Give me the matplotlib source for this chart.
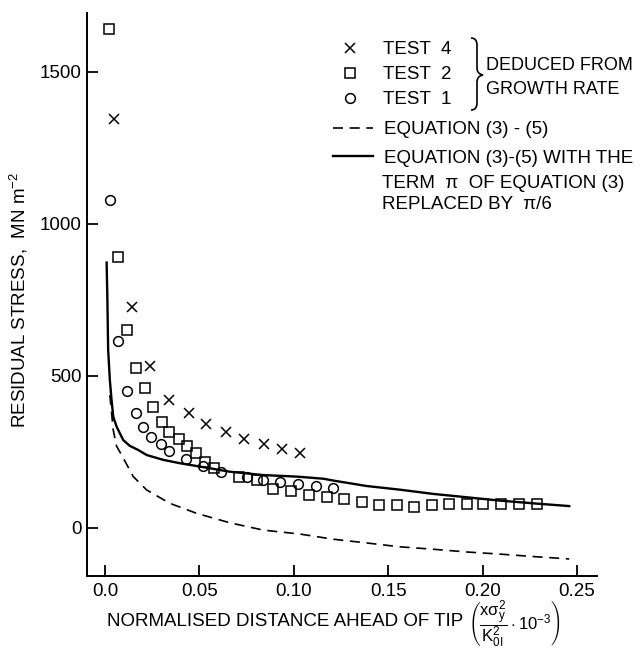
import matplotlib
matplotlib.use("Agg")
import matplotlib.pyplot as plt
from matplotlib.path import Path
from matplotlib.patches import PathPatch

plt.rcParams['font.family'] = ['Liberation Sans', 'DejaVu Sans']
plt.rcParams['mathtext.fontset'] = 'custom'
plt.rcParams['mathtext.rm'] = 'Liberation Sans'
plt.rcParams['mathtext.it'] = 'Liberation Sans'
plt.rcParams['mathtext.bf'] = 'Liberation Sans:bold'

# Messpunkte (aus Wachstumsrate abgeleitet)
t4_x = [0.0048, 0.0143, 0.0238, 0.034, 0.0447, 0.0533, 0.0639, 0.0736, 0.0842, 0.0936, 0.1033]
t4_y = [1345, 727, 533, 421, 377, 342, 316, 293, 276, 260, 246]

t2_x = [0.0021, 0.0071, 0.0118, 0.0162, 0.021, 0.0256, 0.030, 0.0339, 0.0392, 0.0436,
        0.0484, 0.0531, 0.0577, 0.0711, 0.0803, 0.0892, 0.0987, 0.108, 0.1174, 0.1268,
        0.136, 0.1453, 0.1545, 0.1638, 0.173, 0.1824, 0.1915, 0.2004, 0.2099, 0.2193, 0.2286]
t2_y = [1642, 891, 651, 526, 461, 399, 350, 315, 292, 271,
        246, 218, 196, 167, 157, 129, 123, 108, 103, 96,
        86, 77, 75, 68, 77, 79, 79, 79, 79, 79, 78]

t1_x = [0.0026, 0.0067, 0.0115, 0.0162, 0.0203, 0.0245, 0.0295, 0.0341, 0.0431, 0.0521,
        0.0614, 0.075, 0.0839, 0.0927, 0.1024, 0.1118, 0.1209]
t1_y = [1079, 616, 452, 377, 332, 298, 276, 253, 226, 204,
        184, 169, 158, 151, 146, 139, 133]

# Gleichung (3)-(5)
dash_x = [0.0026, 0.0044, 0.0061, 0.0097, 0.015, 0.0221, 0.0344, 0.0486, 0.0662, 0.0838,
          0.1033, 0.1209, 0.1368, 0.1562, 0.1739, 0.1916, 0.2092, 0.2269, 0.2459]
dash_y = [437, 322, 270, 230, 169, 125, 81, 48, 17, -7,
          -20, -37, -48, -62, -70, -79, -86, -94, -102]

# Gleichung (3)-(5) mit pi/6
sol_x = [0.0009, 0.0013, 0.0017, 0.0026, 0.0035, 0.0044, 0.0062, 0.0097, 0.0132, 0.0175,
         0.0221, 0.0309, 0.0397, 0.0503, 0.0662, 0.0838, 0.1015, 0.1157, 0.1209, 0.1386,
         0.1562, 0.1739, 0.1916, 0.2092, 0.2269, 0.2459]
sol_y = [873, 750, 586, 487, 421, 366, 333, 289, 270, 257,
         240, 224, 213, 202, 185, 174, 169, 162, 156, 138,
         126, 112, 101, 90, 81, 72]

xticks = [0.0, 0.05, 0.10, 0.15, 0.20, 0.25]
xtick_labels = ["0.0", "0.05", "0.10", "0.15", "0.20", "0.25"]
yticks = [0, 500, 1000, 1500]

W, H = 640, 648
fig = plt.figure(figsize=(6.4, 6.48), dpi=100)
ax = fig.add_axes([87 / W, 1 - 576 / H, (597 - 87) / W, (576 - 13) / H])

mk = dict(linestyle="none", markerfacecolor="none", markeredgecolor="black", markeredgewidth=1.1)
h4, = ax.plot(t4_x, t4_y, marker="x", markersize=7.5, color="black", linestyle="none",
              markeredgewidth=1.1, label="TEST  4")
h2, = ax.plot(t2_x, t2_y, marker="s", markersize=6.5, label="TEST  2", **mk)
h1, = ax.plot(t1_x, t1_y, marker="o", markersize=7, label="TEST  1", **mk)
hd, = ax.plot(dash_x, dash_y, color="black", lw=1.2, dashes=(6, 4),
              label="EQUATION (3) - (5)")
hs, = ax.plot(sol_x, sol_y, color="black", lw=1.7,
              label="EQUATION (3)-(5) WITH THE")

ax.set_xlim(-0.0095, 0.2606)
ax.set_ylim(-158, 1694)
ax.spines["top"].set_visible(False)
ax.spines["right"].set_visible(False)
for s in ["left", "bottom"]:
    ax.spines[s].set_linewidth(1.4)

ax.set_xticks(xticks)
ax.set_xticklabels(xtick_labels)
ax.set_yticks(yticks)
ax.tick_params(direction="in", length=8, width=1.3, labelsize=13.5)
ax.tick_params(axis="x", pad=5)
ax.tick_params(axis="y", pad=4)

ax.set_ylabel(r"RESIDUAL STRESS,  MN m$^{-2}$", fontsize=13.5, va="center")
ax.yaxis.set_label_coords(-0.133, 0.49)

# x-Achse: Text + Bruch getrennt
ax.set_xlabel("NORMALISED DISTANCE AHEAD OF TIP", fontsize=13.5, ha="left", va="center")
ax.xaxis.set_label_coords((107 - 87) / 510, -(621 - 576) / 563, transform=ax.transAxes)
fig.text(468 / W, 1 - 624 / H,
         r"$\left(\dfrac{\mathrm{x}\sigma_{\mathrm{y}}^{2}}{\mathrm{K}_{\mathrm{0I}}^{2}}"
         r"\cdot 10^{-3}\right)$", fontsize=12, ha="left", va="center")

# Legende Messpunkte
leg1 = fig.legend(handles=[h4, h2, h1], loc="upper left",
                  bbox_to_anchor=(336 / W, 1 - 41 / H), frameon=False, fontsize=13.5,
                  borderpad=0, borderaxespad=0, handlelength=1.5, handletextpad=1.0,
                  labelspacing=0.43, numpoints=1)
leg2 = fig.legend(handles=[hd, hs], loc="upper left",
                  bbox_to_anchor=(333 / W, 1 - 121 / H), frameon=False, fontsize=13.5,
                  borderpad=0, borderaxespad=0, handlelength=2.15, handletextpad=0.55,
                  labelspacing=0.61)

# Klammer
def px(x, y):
    return (x / W, 1 - y / H)

verts = [px(471, 38), px(477, 38), px(477, 45), px(477, 68), px(477, 74), px(483, 75),
         px(477, 76), px(477, 82), px(477, 103), px(477, 110), px(471, 110)]
codes = [Path.MOVETO, Path.CURVE3, Path.CURVE3, Path.LINETO, Path.CURVE3, Path.CURVE3,
         Path.CURVE3, Path.CURVE3, Path.LINETO, Path.CURVE3, Path.CURVE3]
fig.patches.append(PathPatch(Path(verts, codes), transform=fig.transFigure,
                             fill=False, lw=1.2, edgecolor="black"))

fig.text(*px(486, 70), "DEDUCED FROM", fontsize=13, va="baseline")
fig.text(*px(486, 93.5), "GROWTH RATE", fontsize=13, va="baseline")
fig.text(*px(382, 188.5), "TERM  π  OF EQUATION (3)", fontsize=13.5, va="baseline")
fig.text(*px(382, 209.5), "REPLACED BY  π/6", fontsize=13.5, va="baseline")

fig.savefig("out.png", dpi=100)
